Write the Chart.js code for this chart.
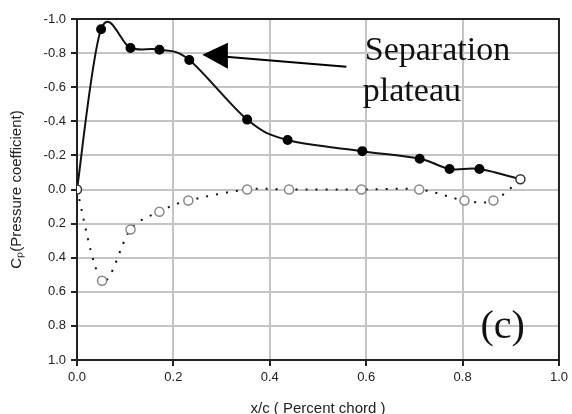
<!DOCTYPE html>
<html>
<head>
<meta charset="utf-8">
<script src="https://cdn.jsdelivr.net/npm/chart.js@4.4.1/dist/chart.umd.min.js"></script>
<style>
  html, body { margin:0; padding:0; background:#fff; }
  #wrap { width:572px; height:414px; }
</style>
</head>
<body>
<div id="wrap"><canvas id="cp"></canvas></div>
<script>
// upper surface (filled markers, solid line)
const xUpper  = [0, 0.05, 0.111, 0.171, 0.233, 0.353, 0.437, 0.592, 0.711, 0.773, 0.835, 0.92];
const cpUpper = [0, -0.94, -0.83, -0.82, -0.76, -0.41, -0.29, -0.225, -0.18, -0.12, -0.12, -0.06];
// lower surface (open markers, dotted line)
const xLower  = [0, 0.052, 0.111, 0.171, 0.231, 0.353, 0.44, 0.59, 0.71, 0.804, 0.864, 0.92];
const cpLower = [0, 0.535, 0.235, 0.13, 0.065, 0, 0, 0, 0, 0.065, 0.065, -0.06];

const xTicks = [0, 0.2, 0.4, 0.6, 0.8, 1.0];
const yTicks = [-1.0, -0.8, -0.6, -0.4, -0.2, 0, 0.2, 0.4, 0.6, 0.8, 1.0];

const pts = (xs, ys) => xs.map((x, i) => ({ x, y: ys[i] }));
const last = xUpper.length - 1;

const SANS  = "'Liberation Sans', Arial, sans-serif";
const SERIF = "'Liberation Serif', 'Times New Roman', serif";

// spreadsheet-style smoothing (catmull-rom) instead of chart.js' own bezier weights
const K = 1 / 6;
const smooth = {
  id: 'smooth',
  beforeDatasetDraw(chart, args) {
    const meta = args.meta;
    const line = meta.dataset;
    if (!line) return;
    line.updateControlPoints(chart.chartArea, 'x');
    const p = meta.data, n = p.length;
    for (let i = 0; i < n; i++) {
      const a = p[Math.max(i - 1, 0)], b = p[i], c = p[Math.min(i + 1, n - 1)];
      const dx = (c.x - a.x) * K, dy = (c.y - a.y) * K;
      b.cp1x = b.x - dx; b.cp1y = b.y - dy;
      b.cp2x = b.x + dx; b.cp2y = b.y + dy;
    }
    line._path = undefined;
  }
};

// frame on top/right + arrow and text labels
const extras = {
  id: 'extras',
  afterDatasetsDraw(chart) {
    const { ctx, chartArea: a, scales: { x, y } } = chart;
    ctx.save();
    ctx.strokeStyle = '#222';
    ctx.lineWidth = 2;
    ctx.beginPath();
    ctx.moveTo(a.left, a.top); ctx.lineTo(a.right, a.top); ctx.lineTo(a.right, a.bottom);
    ctx.stroke();

    // arrow
    const tipX = x.getPixelForValue(0.26), tipY = y.getPixelForValue(-0.79);
    const baseX = x.getPixelForValue(0.313);
    const endX = x.getPixelForValue(0.559), endY = y.getPixelForValue(-0.72);
    ctx.fillStyle = '#000';
    ctx.strokeStyle = '#000';
    ctx.beginPath();
    ctx.moveTo(tipX, tipY);
    ctx.lineTo(baseX, tipY - 12);
    ctx.lineTo(baseX, tipY + 14);
    ctx.closePath();
    ctx.fill();
    ctx.lineWidth = 2;
    ctx.beginPath();
    ctx.moveTo(baseX - 2, tipY + 2);
    ctx.lineTo(endX, endY);
    ctx.stroke();

    ctx.font = '34px ' + SERIF;
    ctx.textAlign = 'left';
    ctx.textBaseline = 'alphabetic';
    ctx.fillStyle = '#111';
    ctx.fillText('Separation', x.getPixelForValue(0.597), y.getPixelForValue(-0.76));
    ctx.fillText('plateau', x.getPixelForValue(0.593), y.getPixelForValue(-0.52));

    ctx.font = '40px ' + SERIF;
    ctx.textAlign = 'center';
    ctx.textBaseline = 'middle';
    ctx.fillText('(c)', x.getPixelForValue(0.883), y.getPixelForValue(0.81));
    ctx.restore();
  }
};

new Chart(document.getElementById('cp'), {
  type: 'scatter',
  data: {
    datasets: [
      {
        label: 'Lower',
        data: pts(xLower, cpLower),
        showLine: true,
        borderColor: '#111',
        borderWidth: 2,
        borderDash: [2, 8],
        tension: 0.4,
        pointRadius: 4.5,
        pointBackgroundColor: '#fff',
        pointBorderColor: xLower.map((_, i) => (i === 0 || i === last) ? '#333' : '#888'),
        pointBorderWidth: 1.5,
      },
      {
        label: 'Upper',
        data: pts(xUpper, cpUpper),
        showLine: true,
        borderColor: '#111',
        borderWidth: 2,
        tension: 0.4,
        pointRadius: xUpper.map((_, i) => (i === 0 || i === last) ? 0 : 4),
        pointBackgroundColor: '#000',
        pointBorderColor: '#000',
      },
    ]
  },
  options: {
    responsive: true,
    maintainAspectRatio: false,
    animation: false,
    layout: { padding: { top: 19, right: 11, left: 0, bottom: 0 } },
    plugins: { legend: { display: false }, tooltip: { enabled: false } },
    scales: {
      x: {
        type: 'linear', min: 0, max: 1,
        afterBuildTicks: s => { s.ticks = xTicks.map(v => ({ value: v })); },
        afterFit: s => { s.height = 54; },
        ticks: { callback: v => v.toFixed(1), color: '#222', font: { family: SANS, size: 13 }, padding: 4, maxRotation: 0 },
        grid: { color: '#c4c4c4', lineWidth: 2, tickColor: '#222', tickLength: 6, tickWidth: 2 },
        border: { color: '#222', width: 2 },
        title: { display: true, text: 'x/c ( Percent chord )', color: '#222', font: { family: SANS, size: 15 }, padding: { top: 0, bottom: -4 } },
      },
      y: {
        type: 'linear', min: -1, max: 1, reverse: true,
        afterBuildTicks: s => { s.ticks = yTicks.map(v => ({ value: v })); },
        afterFit: s => { s.width = 77; },
        ticks: { callback: v => (Math.abs(v) < 1e-9 ? 0 : v).toFixed(1), color: '#222', font: { family: SANS, size: 13 }, padding: 5 },
        grid: { color: '#c4c4c4', lineWidth: 2, tickColor: '#222', tickLength: 6, tickWidth: 2 },
        border: { color: '#222', width: 2 },
        title: { display: true, text: 'Cₚ(Pressure coefficient)', color: '#222', font: { family: SANS, size: 15 }, padding: { top: 8, bottom: 0 } },
      }
    }
  },
  plugins: [smooth, extras]
});
</script>
</body>
</html>
